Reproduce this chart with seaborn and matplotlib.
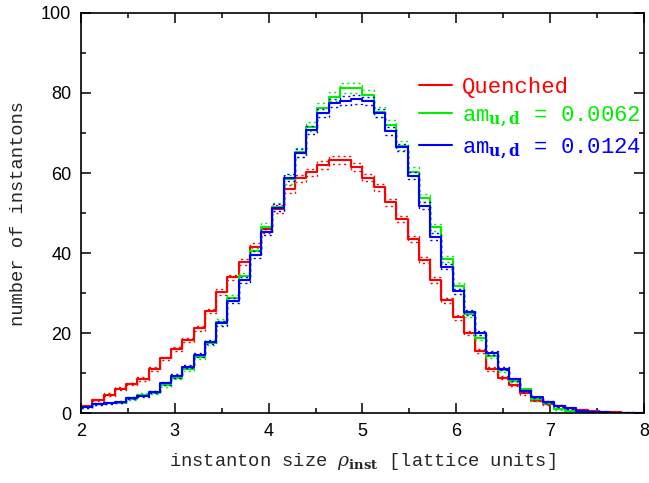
import numpy as np
import pandas as pd
import matplotlib
matplotlib.use("Agg")
import matplotlib.pyplot as plt
from matplotlib.ticker import MultipleLocator
import seaborn as sns

sns.set_style("ticks")
plt.rcParams["font.family"] = ["Liberation Sans", "DejaVu Sans"]
plt.rcParams["mathtext.fontset"] = "dejavuserif"

# bin edges of the size histogram (lattice units)
BIN_EDGES = [round(2.0 + 0.12 * i, 2) for i in range(51)]

QUENCHED = [
    1.8, 3.25, 4.6, 6.1, 7.3, 8.5, 11.0, 13.7, 16.0, 18.3,
    21.2, 25.5, 30.3, 33.9, 37.7, 41.6, 45.9, 51.0, 56.0, 58.7,
    60.2, 61.9, 63.3, 63.3, 61.4, 58.8, 56.4, 52.7, 48.5, 43.5,
    38.2, 33.3, 28.2, 23.9, 19.9, 15.5, 11.0, 8.8, 7.0, 4.9,
    3.1, 2.25, 1.8, 1.2, 0.8, 0.5, 0.3, 0.2, 0.1, 0.05,
]
QUENCHED_ERR = [
    0.2, 0.2, 0.3, 0.3, 0.3, 0.4, 0.4, 0.4, 0.5, 0.5,
    0.6, 0.6, 0.7, 0.7, 0.7, 0.8, 0.8, 0.9, 0.9, 0.9,
    0.9, 1.0, 1.0, 1.0, 1.0, 0.9, 0.9, 0.9, 0.8, 0.8,
    0.7, 0.7, 0.6, 0.6, 0.5, 0.5, 0.4, 0.4, 0.3, 0.3,
    0.2, 0.2, 0.2, 0.1, 0.1, 0.1, 0.1, 0.05, 0.05, 0.03,
]

M0062 = [
    1.5, 2.3, 2.5, 2.6, 3.6, 4.6, 5.1, 7.0, 8.8, 11.0,
    14.0, 17.5, 22.8, 28.7, 34.2, 40.4, 46.6, 51.5, 58.4, 65.2,
    71.6, 76.2, 79.1, 81.2, 81.2, 79.5, 75.3, 72.0, 66.8, 60.3,
    53.8, 46.4, 38.5, 31.8, 24.8, 18.8, 14.3, 10.7, 8.1, 5.9,
    3.4, 2.4, 0.9, 0.6, 0.3, 0.2, 0.1, 0.05, 0.03, 0.01,
]
M0062_ERR = [
    0.2, 0.2, 0.2, 0.2, 0.3, 0.3, 0.3, 0.4, 0.4, 0.5,
    0.5, 0.6, 0.7, 0.8, 0.8, 0.9, 1.0, 1.0, 1.1, 1.1,
    1.2, 1.2, 1.2, 1.3, 1.3, 1.2, 1.2, 1.2, 1.1, 1.1,
    1.0, 0.9, 0.8, 0.8, 0.7, 0.6, 0.5, 0.5, 0.4, 0.3,
    0.3, 0.2, 0.2, 0.1, 0.1, 0.1, 0.05, 0.05, 0.03, 0.02,
]

M0124 = [
    1.4, 2.2, 2.4, 2.8, 3.7, 4.25, 5.3, 7.4, 9.25, 11.6,
    14.5, 17.8, 22.4, 28.1, 33.3, 39.6, 45.2, 51.3, 58.8, 65.1,
    70.7, 75.1, 77.6, 78.1, 78.4, 78.1, 75.1, 70.6, 66.4, 59.3,
    51.8, 44.1, 36.6, 30.4, 25.2, 20.0, 15.1, 11.1, 8.4, 5.5,
    3.9, 2.7, 1.75, 1.2, 0.6, 0.3, 0.15, 0.1, 0.05, 0.02,
]
M0124_ERR = [
    0.2, 0.2, 0.2, 0.2, 0.3, 0.3, 0.3, 0.4, 0.4, 0.4,
    0.5, 0.5, 0.6, 0.7, 0.7, 0.8, 0.8, 0.9, 0.9, 1.0,
    1.0, 1.0, 1.0, 1.1, 1.1, 1.0, 1.0, 1.0, 0.9, 0.9,
    0.9, 0.8, 0.7, 0.7, 0.6, 0.5, 0.5, 0.4, 0.4, 0.3,
    0.2, 0.2, 0.2, 0.1, 0.1, 0.1, 0.05, 0.05, 0.03, 0.02,
]

SERIES = [
    ("Quenched", QUENCHED, QUENCHED_ERR, "#ff0000"),
    (r"am$_{\mathbf{u,d}}$ = 0.0062", M0062, M0062_ERR, "#00ee00"),
    (r"am$_{\mathbf{u,d}}$ = 0.0124", M0124, M0124_ERR, "#0000ff"),
]

MONO = ["Liberation Mono", "DejaVu Sans Mono"]

edges = np.array(BIN_EDGES)
centers = (edges[:-1] + edges[1:]) / 2

fig = plt.figure(figsize=(6.49, 4.83), dpi=100)
ax = fig.add_axes([0.1248, 0.1449, 0.8675, 0.8282])

for label, vals, errs, color in SERIES:
    df = pd.DataFrame({
        "size": centers,
        "n": vals,
        "hi": np.array(vals) + np.array(errs),
        "lo": np.array(vals) - np.array(errs),
    })
    # dotted error band above and below, then the histogram itself
    for col in ("hi", "lo"):
        sns.histplot(data=df, x="size", weights=col, bins=BIN_EDGES,
                     element="step", fill=False, color=color,
                     linewidth=1.0, linestyle=(0, (1.5, 2.5)), ax=ax)
    sns.histplot(data=df, x="size", weights="n", bins=BIN_EDGES,
                 element="step", fill=False, color=color,
                 linewidth=1.5, label=label, ax=ax)

ax.set_xlim(2, 8)
ax.set_ylim(0, 100)
ax.xaxis.set_major_locator(MultipleLocator(1))
ax.xaxis.set_minor_locator(MultipleLocator(0.5))
ax.yaxis.set_major_locator(MultipleLocator(20))
ax.yaxis.set_minor_locator(MultipleLocator(10))
ax.tick_params(which="both", direction="in", top=True, right=True,
               width=1.1, labelsize=13, colors="black")
ax.tick_params(which="major", length=7, pad=7)
ax.tick_params(which="minor", length=3.8)
for sp in ax.spines.values():
    sp.set_linewidth(1.2)
    sp.set_color("black")

ax.set_xlabel(r"instanton size $\rho_{\mathbf{inst}}$ [lattice units]",
              family=MONO, fontsize=13.5, labelpad=8)
ax.set_ylabel("number of instantons", family=MONO, fontsize=13.5,
              labelpad=10)

leg = ax.legend(loc="upper left", bbox_to_anchor=(0.6, 0.84),
                frameon=False, handlelength=1.5, handletextpad=0.45,
                labelspacing=0.3, borderpad=0, borderaxespad=0,
                prop={"family": MONO, "size": 16})
for txt, (_, _, _, color) in zip(leg.get_texts(), SERIES):
    txt.set_color(color)

fig.savefig("out.png", dpi=100)
